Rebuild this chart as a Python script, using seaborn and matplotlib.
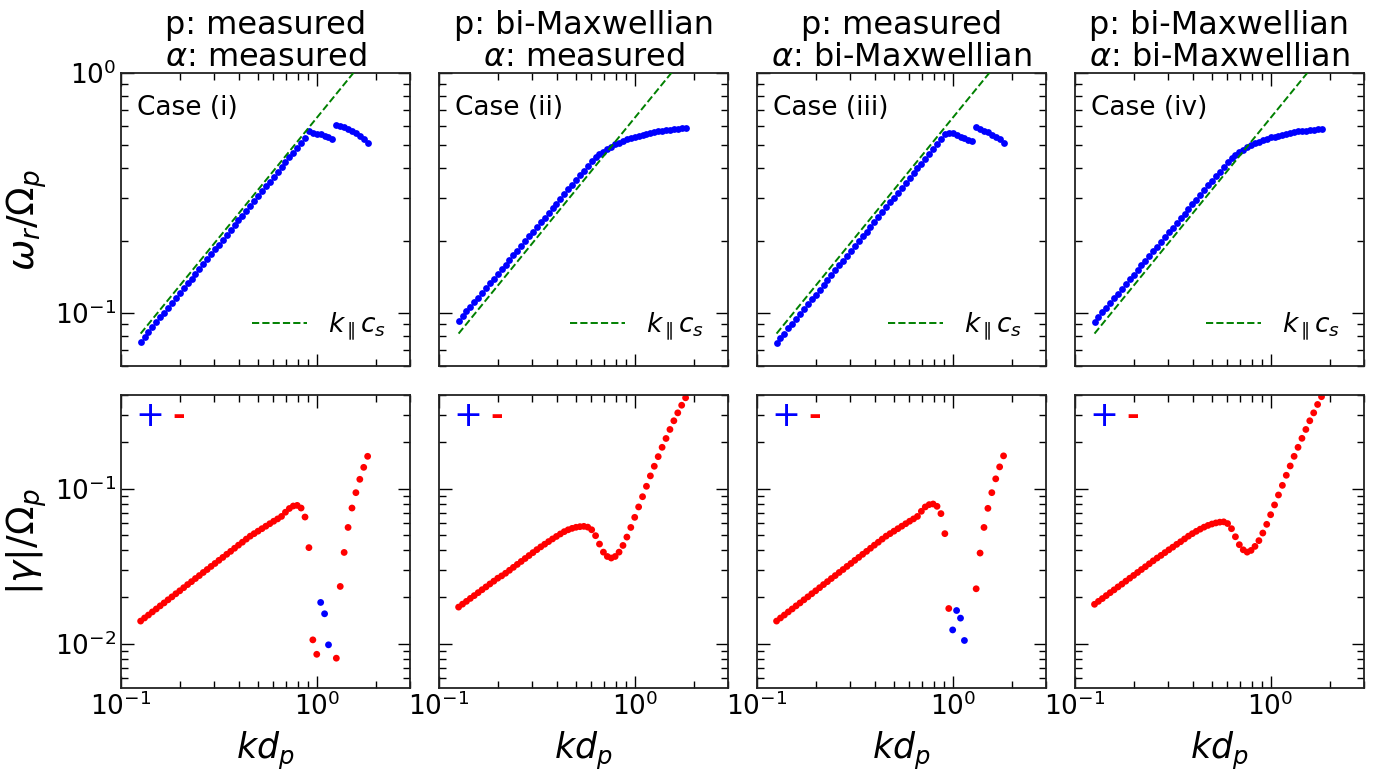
import numpy as np
import pandas as pd
import matplotlib
matplotlib.use("Agg")
import matplotlib.pyplot as plt
import seaborn as sns

# ---------------- data ----------------
# wavenumber grid, log10(k d_p)
log_k = [-0.90, -0.88, -0.86, -0.84, -0.82, -0.80, -0.78, -0.76, -0.74, -0.72,
         -0.70, -0.68, -0.66, -0.64, -0.62, -0.60, -0.58, -0.56, -0.54, -0.52,
         -0.50, -0.48, -0.46, -0.44, -0.42, -0.40, -0.38, -0.36, -0.34, -0.32,
         -0.30, -0.28, -0.26, -0.24, -0.22, -0.20, -0.18, -0.16, -0.14, -0.12,
         -0.10, -0.08, -0.06, -0.04, -0.02, 0.00, 0.02, 0.04, 0.06, 0.08,
         0.10, 0.12, 0.14, 0.16, 0.18, 0.20, 0.22, 0.24, 0.26]

# log10(omega_r / Omega_p)
log_omega_i = [-1.121, -1.101, -1.081, -1.060, -1.040, -1.020, -1.000, -0.979, -0.959, -0.939,
               -0.919, -0.898, -0.878, -0.858, -0.838, -0.817, -0.797, -0.777, -0.757, -0.736,
               -0.716, -0.696, -0.676, -0.656, -0.635, -0.615, -0.595, -0.575, -0.554, -0.534,
               -0.514, -0.494, -0.473, -0.453, -0.433, -0.413, -0.392, -0.372, -0.352, -0.332,
               -0.311, -0.291, -0.271, -0.241, -0.250, -0.253, -0.256, -0.261, -0.267, -0.275,
               -0.216, -0.221, -0.227, -0.234, -0.242, -0.251, -0.262, -0.275, -0.290]
log_omega_ii = [-1.035, -1.015, -0.995, -0.976, -0.956, -0.937, -0.917, -0.897, -0.878, -0.858,
                -0.839, -0.819, -0.800, -0.780, -0.760, -0.741, -0.721, -0.702, -0.682, -0.662,
                -0.643, -0.623, -0.604, -0.584, -0.564, -0.545, -0.525, -0.506, -0.486, -0.466,
                -0.447, -0.427, -0.408, -0.388, -0.369, -0.352, -0.340, -0.328, -0.317, -0.307,
                -0.298, -0.290, -0.283, -0.277, -0.271, -0.266, -0.262, -0.258, -0.254, -0.250,
                -0.247, -0.244, -0.241, -0.239, -0.237, -0.235, -0.233, -0.231, -0.230]
log_omega_iii = [-1.127, -1.107, -1.087, -1.066, -1.046, -1.026, -1.006, -0.985, -0.965, -0.945,
                 -0.925, -0.904, -0.884, -0.864, -0.844, -0.823, -0.803, -0.783, -0.763, -0.742,
                 -0.722, -0.702, -0.682, -0.662, -0.641, -0.621, -0.601, -0.581, -0.560, -0.540,
                 -0.520, -0.500, -0.479, -0.459, -0.439, -0.419, -0.398, -0.378, -0.358, -0.338,
                 -0.317, -0.297, -0.277, -0.253, -0.250, -0.252, -0.258, -0.265, -0.272, -0.278,
                 -0.284, -0.226, -0.232, -0.240, -0.248, -0.257, -0.266, -0.277, -0.290]
log_omega_iv = [-1.038, -1.018, -0.998, -0.979, -0.959, -0.940, -0.920, -0.900, -0.881, -0.861,
                -0.842, -0.822, -0.803, -0.783, -0.763, -0.744, -0.724, -0.705, -0.685, -0.665,
                -0.646, -0.626, -0.607, -0.587, -0.567, -0.548, -0.528, -0.509, -0.489, -0.469,
                -0.450, -0.430, -0.411, -0.391, -0.372, -0.355, -0.343, -0.331, -0.320, -0.310,
                -0.301, -0.293, -0.286, -0.280, -0.274, -0.269, -0.265, -0.261, -0.257, -0.253,
                -0.250, -0.247, -0.244, -0.242, -0.240, -0.238, -0.236, -0.234, -0.233]

# log10(|gamma| / Omega_p); None = no root found
log_gamma_i = [-1.853, -1.833, -1.814, -1.794, -1.775, -1.755, -1.736, -1.716, -1.697, -1.677,
               -1.658, -1.638, -1.618, -1.599, -1.579, -1.560, -1.540, -1.521, -1.501, -1.482,
               -1.462, -1.443, -1.423, -1.404, -1.384, -1.364, -1.345, -1.325, -1.306, -1.290,
               -1.274, -1.258, -1.242, -1.226, -1.210, -1.195, -1.179, -1.152, -1.128, -1.112,
               -1.108, -1.125, -1.183, -1.380, -1.974, -2.067, -1.733, -1.806, -2.006, None,
               -2.092, -1.630, -1.411, -1.250, -1.125, -1.026, -0.940, -0.863, -0.792]
log_gamma_ii = [-1.763, -1.744, -1.726, -1.707, -1.689, -1.670, -1.651, -1.633, -1.614, -1.596,
                -1.577, -1.562, -1.545, -1.526, -1.507, -1.488, -1.469, -1.450, -1.431, -1.412,
                -1.393, -1.375, -1.358, -1.341, -1.324, -1.308, -1.292, -1.277, -1.265, -1.256,
                -1.249, -1.245, -1.243, -1.248, -1.265, -1.303, -1.357, -1.409, -1.437, -1.447,
                -1.437, -1.409, -1.366, -1.312, -1.250, -1.185, -1.118, -1.052, -0.985, -0.918,
                -0.856, -0.794, -0.734, -0.677, -0.619, -0.563, -0.512, -0.463, -0.415]
log_gamma_iii = [-1.853, -1.833, -1.814, -1.794, -1.775, -1.755, -1.736, -1.716, -1.697, -1.677,
                 -1.658, -1.638, -1.618, -1.599, -1.579, -1.560, -1.540, -1.521, -1.501, -1.482,
                 -1.462, -1.443, -1.423, -1.404, -1.384, -1.364, -1.345, -1.325, -1.306, -1.290,
                 -1.274, -1.258, -1.242, -1.226, -1.210, -1.195, -1.179, -1.146, -1.118, -1.103,
                 -1.099, -1.114, -1.161, -1.290, -1.772, -1.910, -1.785, -1.834, -1.978, None,
                 None, -1.645, -1.415, -1.250, -1.127, -1.026, -0.937, -0.860, -0.789]
log_gamma_iv = [-1.745, -1.726, -1.708, -1.689, -1.670, -1.652, -1.633, -1.615, -1.596, -1.577,
                -1.559, -1.540, -1.521, -1.503, -1.484, -1.465, -1.447, -1.430, -1.412, -1.394,
                -1.377, -1.359, -1.342, -1.324, -1.306, -1.290, -1.275, -1.261, -1.248, -1.237,
                -1.228, -1.221, -1.216, -1.214, -1.225, -1.258, -1.310, -1.361, -1.394, -1.409,
                -1.398, -1.372, -1.335, -1.286, -1.230, -1.168, -1.105, -1.041, -0.979, -0.914,
                -0.854, -0.792, -0.734, -0.676, -0.619, -0.563, -0.512, -0.458, -0.408]

# grid indices where gamma > 0 (growing, blue); all other points are damped (red)
growing_i = [46, 47, 48]
growing_ii = []
growing_iii = [45, 46, 47, 48]
growing_iv = []

# k_par c_s reference line (end points)
kline = [0.1259, 1.8197]
wline = [0.0818, 1.183]

titles = ["p: measured\n$\\alpha$: measured",
          "p: bi-Maxwellian\n$\\alpha$: measured",
          "p: measured\n$\\alpha$: bi-Maxwellian",
          "p: bi-Maxwellian\n$\\alpha$: bi-Maxwellian"]
case_labels = ["Case (i)", "Case (ii)", "Case (iii)", "Case (iv)"]

omegas = [log_omega_i, log_omega_ii, log_omega_iii, log_omega_iv]
gammas = [log_gamma_i, log_gamma_ii, log_gamma_iii, log_gamma_iv]
growing = [growing_i, growing_ii, growing_iii, growing_iv]

# ---------------- plotting ----------------
sns.set_style("ticks")
plt.rcParams['font.family'] = ['DejaVu Sans']
plt.rcParams['mathtext.fontset'] = 'dejavusans'
plt.rcParams['text.color'] = 'black'
plt.rcParams['axes.labelcolor'] = 'black'
plt.rcParams['xtick.color'] = 'black'
plt.rcParams['ytick.color'] = 'black'
plt.rcParams['axes.edgecolor'] = 'black'

fig, axes = plt.subplots(2, 4, figsize=(13.9, 7.7), dpi=100)
fig.subplots_adjust(left=0.0871, right=0.9813, bottom=0.1065, top=0.9052,
                    wspace=0.1, hspace=0.1)

k = np.power(10.0, np.array(log_k))

for c in range(4):
    axt = axes[0, c]
    axb = axes[1, c]

    # --- real frequency ---
    dft = pd.DataFrame({"k": k, "w": np.power(10.0, np.array(omegas[c], dtype=float))})
    sns.scatterplot(data=dft, x="k", y="w", color="#0000ff", s=24, linewidth=0,
                    ax=axt, zorder=2)
    sns.lineplot(x=kline, y=wline, color="green", linestyle="--", linewidth=1.4,
                 ax=axt, label=r"$k_\parallel c_s$", zorder=3)
    axt.legend(loc="lower right", frameon=False, fontsize=19, handlelength=2.1,
               borderaxespad=0.5, handletextpad=0.8)
    axt.text(0.055, 0.88, case_labels[c], transform=axt.transAxes, fontsize=19,
             ha="left", va="center")
    axt.set_title(titles[c], fontsize=23, pad=5, linespacing=1.05)

    # --- damping / growth rate ---
    g = np.array([np.nan if v is None else v for v in gammas[c]], dtype=float)
    sign = np.where(np.isin(np.arange(len(k)), growing[c]), "+", "-")
    dfb = pd.DataFrame({"k": k, "g": np.power(10.0, g), "sign": sign}).dropna()
    sns.scatterplot(data=dfb, x="k", y="g", hue="sign",
                    palette={"+": "#0000ff", "-": "#ff0000"}, s=24, linewidth=0,
                    ax=axb, legend=False)
    axb.text(0.10, 0.928, "+", transform=axb.transAxes, fontsize=25,
             color="#0000ff", ha="center", va="center")
    axb.text(0.20, 0.928, "-", transform=axb.transAxes, fontsize=22,
             color="#ff0000", ha="center", va="center", fontweight="bold")

    for ax in (axt, axb):
        ax.set_xscale("log")
        ax.set_yscale("log")
        ax.set_xlim(0.1, 3.0)
        ax.tick_params(which="both", direction="in", top=True, right=True,
                       labelsize=19, colors="black")
        ax.tick_params(which="major", length=9, width=1.0)
        ax.tick_params(which="minor", length=5, width=1.0)
        for sp in ax.spines.values():
            sp.set_linewidth(1.3)
            sp.set_color("#222222")
        ax.set_xlabel("")
        ax.set_ylabel("")
    axt.set_ylim(0.06, 1.0)
    axb.set_ylim(0.0052, 0.4)
    axt.tick_params(labelbottom=False)
    axb.set_xlabel("$kd_p$", fontsize=25, labelpad=6)
    if c > 0:
        axt.tick_params(labelleft=False)
        axb.tick_params(labelleft=False)

axes[0, 0].set_ylabel(r"$\omega_r/\Omega_p$", fontsize=27, labelpad=4)
axes[1, 0].set_ylabel(r"$|\gamma|/\Omega_p$", fontsize=27, labelpad=4)

fig.savefig("out.png", dpi=100)
